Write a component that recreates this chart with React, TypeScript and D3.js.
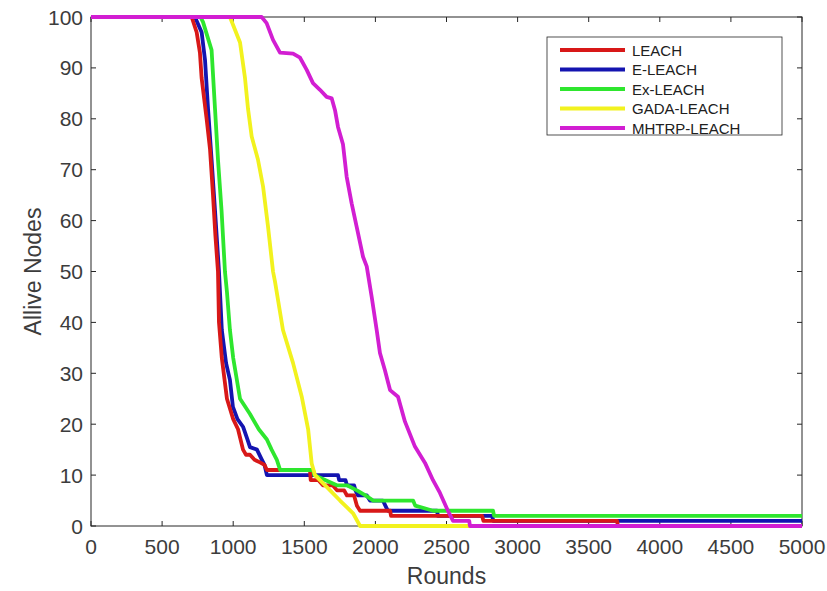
import React from "react";
import * as d3 from "d3";

type Pt = [number, number];

const seriesNames = ["LEACH", "E-LEACH", "Ex-LEACH", "GADA-LEACH", "MHTRP-LEACH"];
const seriesColors = ["#d81818", "#1414b0", "#2ee62e", "#f2f21e", "#d21ed2"];

const leach: Pt[] = [
  [0, 100], [708, 100], [743, 97], [766, 93], [778, 88], [813, 80], [837, 74], [858, 65], [875, 57],
  [893, 50], [900, 40], [920, 33], [956, 25], [1000, 21], [1034, 19], [1069, 15], [1090, 14], [1118, 14],
  [1150, 13], [1188, 12.5], [1220, 12], [1237, 11], [1540, 11], [1545, 9], [1600, 9], [1631, 8], [1700, 8],
  [1730, 7], [1780, 7], [1800, 6], [1850, 6], [1870, 4], [1892, 3], [2103, 3], [2110, 2], [2750, 2],
  [2760, 1], [3700, 1], [3705, 0], [5000, 0],
];
const eLeach: Pt[] = [
  [0, 100], [731, 100], [778, 97], [802, 91.5], [823, 82], [848, 72], [872, 62], [900, 50], [920, 38.5],
  [950, 32], [977, 28.7], [998, 23.4], [1030, 21], [1069, 19.5], [1100, 17], [1118, 15.5], [1167, 15],
  [1202, 13], [1220, 12], [1237, 10], [1737, 10], [1745, 9], [1790, 9], [1800, 8], [1850, 8], [1860, 7],
  [1877, 6], [1940, 6], [1962, 5], [2053, 5], [2070, 4], [2088, 3], [2433, 3], [2440, 2], [2820, 2],
  [2830, 1], [5000, 1],
];
const exLeach: Pt[] = [
  [0, 100], [770, 100], [788, 99], [848, 93.5], [872, 82], [893, 72], [918, 62], [942, 50], [956, 46],
  [977, 38.5], [1000, 33], [1048, 25], [1118, 22], [1180, 19], [1237, 17], [1270, 15], [1307, 13],
  [1330, 11], [1562, 11], [1570, 10], [1650, 9], [1729, 8], [1800, 8], [1870, 7], [1930, 6], [1985, 5],
  [2265, 5], [2280, 4], [2405, 3], [2827, 3], [2835, 2], [5000, 2],
];
const gadaLeach: Pt[] = [
  [0, 100], [977, 100], [1048, 95], [1083, 88], [1104, 82], [1130, 76.5], [1174, 72], [1210, 66.7],
  [1245, 58.8], [1280, 50], [1294, 48], [1350, 38.5], [1421, 32], [1482, 25.4], [1527, 19], [1552, 12.3],
  [1575, 10], [1657, 7.7], [1751, 5], [1843, 2.5], [1892, 0], [5000, 0],
];
const mhtrpLeach: Pt[] = [
  [0, 100], [1200, 100], [1235, 98.8], [1280, 95.5], [1329, 93], [1421, 92.8], [1470, 92], [1517, 89.6],
  [1561, 87], [1610, 85.7], [1657, 84.3], [1693, 84], [1716, 81.7], [1737, 78.4], [1772, 75], [1798, 68.6],
  [1833, 63.4], [1868, 58.8], [1913, 52.9], [1939, 51], [1974, 45], [2009, 38.5], [2032, 34], [2067, 30.6],
  [2091, 28], [2103, 26.7], [2159, 25.4], [2208, 20.5], [2278, 15.6], [2349, 12.4], [2405, 9], [2454, 6.5],
  [2510, 3], [2546, 1], [2660, 1], [2665, 0], [5000, 0],
];

const seriesData: Pt[][] = [leach, eLeach, exLeach, gadaLeach, mhtrpLeach];
// drawing order (E-LEACH beneath LEACH)
const drawOrder = [1, 0, 2, 3, 4];

const xTicks = [0, 500, 1000, 1500, 2000, 2500, 3000, 3500, 4000, 4500, 5000];
const yTicks = [0, 10, 20, 30, 40, 50, 60, 70, 80, 90, 100];

const W = 827;
const H = 591;
const L = 91, R = 802, T = 17, B = 526;

export default function App() {
  const x = d3.scaleLinear().domain([0, 5000]).range([L, R]);
  const y = d3.scaleLinear().domain([0, 100]).range([B, T]);
  const line = d3.line<Pt>().x((d) => x(d[0])).y((d) => y(d[1])).curve(d3.curveLinear);
  const axisColor = "#262626";
  const textColor = "#3c3c3c";
  const font = "'Liberation Sans', Arial, sans-serif";
  const tl = 5;

  const legX = 547, legY = 37, legW = 235, legH = 98;
  const rowH = 19.5;

  return (
    <svg width={W} height={H} style={{ position: "absolute", left: 0, top: 0, background: "#fff" }} fontFamily={font}>
      <rect x={0} y={0} width={W} height={H} fill="#fff" />
      <defs>
        <clipPath id="plotclip">
          <rect x={L - 3} y={T - 3} width={R - L + 6} height={B - T + 6} />
        </clipPath>
      </defs>
      {/* box */}
      <rect x={L} y={T} width={R - L} height={B - T} fill="none" stroke={axisColor} strokeWidth={1} />
      {/* ticks */}
      {xTicks.map((t) => (
        <g key={"xt" + t}>
          <line x1={x(t)} x2={x(t)} y1={B} y2={B - tl} stroke={axisColor} />
          <line x1={x(t)} x2={x(t)} y1={T} y2={T + tl} stroke={axisColor} />
          <text x={x(t)} y={554} textAnchor="middle" fontSize={21} fill={textColor}>{t}</text>
        </g>
      ))}
      {yTicks.map((t) => (
        <g key={"yt" + t}>
          <line x1={L} x2={L + tl} y1={y(t)} y2={y(t)} stroke={axisColor} />
          <line x1={R} x2={R - tl} y1={y(t)} y2={y(t)} stroke={axisColor} />
          <text x={83} y={y(t) + 7.5} textAnchor="end" fontSize={21} fill={textColor}>{t}</text>
        </g>
      ))}
      {/* lines */}
      <g clipPath="url(#plotclip)">
        {drawOrder.map((i) => (
          <path key={"s" + i} d={line(seriesData[i]) || ""} fill="none" stroke={seriesColors[i]}
            strokeWidth={3.8} strokeLinejoin="round" />
        ))}
      </g>
      {/* axis labels */}
      <text x={(L + R) / 2} y={584} textAnchor="middle" fontSize={23} fill={textColor}>Rounds</text>
      <text transform={`translate(41, ${(T + B) / 2}) rotate(-90)`} textAnchor="middle" fontSize={23} fill={textColor}>Allive Nodes</text>
      {/* legend */}
      <rect x={legX} y={legY} width={legW} height={legH} fill="#fff" stroke={axisColor} strokeWidth={0.8} />
      {seriesNames.map((n, i) => {
        const cy = legY + 13 + i * rowH;
        return (
          <g key={"l" + n}>
            <line x1={560} x2={625} y1={cy} y2={cy} stroke={seriesColors[i]} strokeWidth={3.8} />
            <text x={632} y={cy + 5.5} fontSize={15} fill="#202020">{n}</text>
          </g>
        );
      })}
    </svg>
  );
}
